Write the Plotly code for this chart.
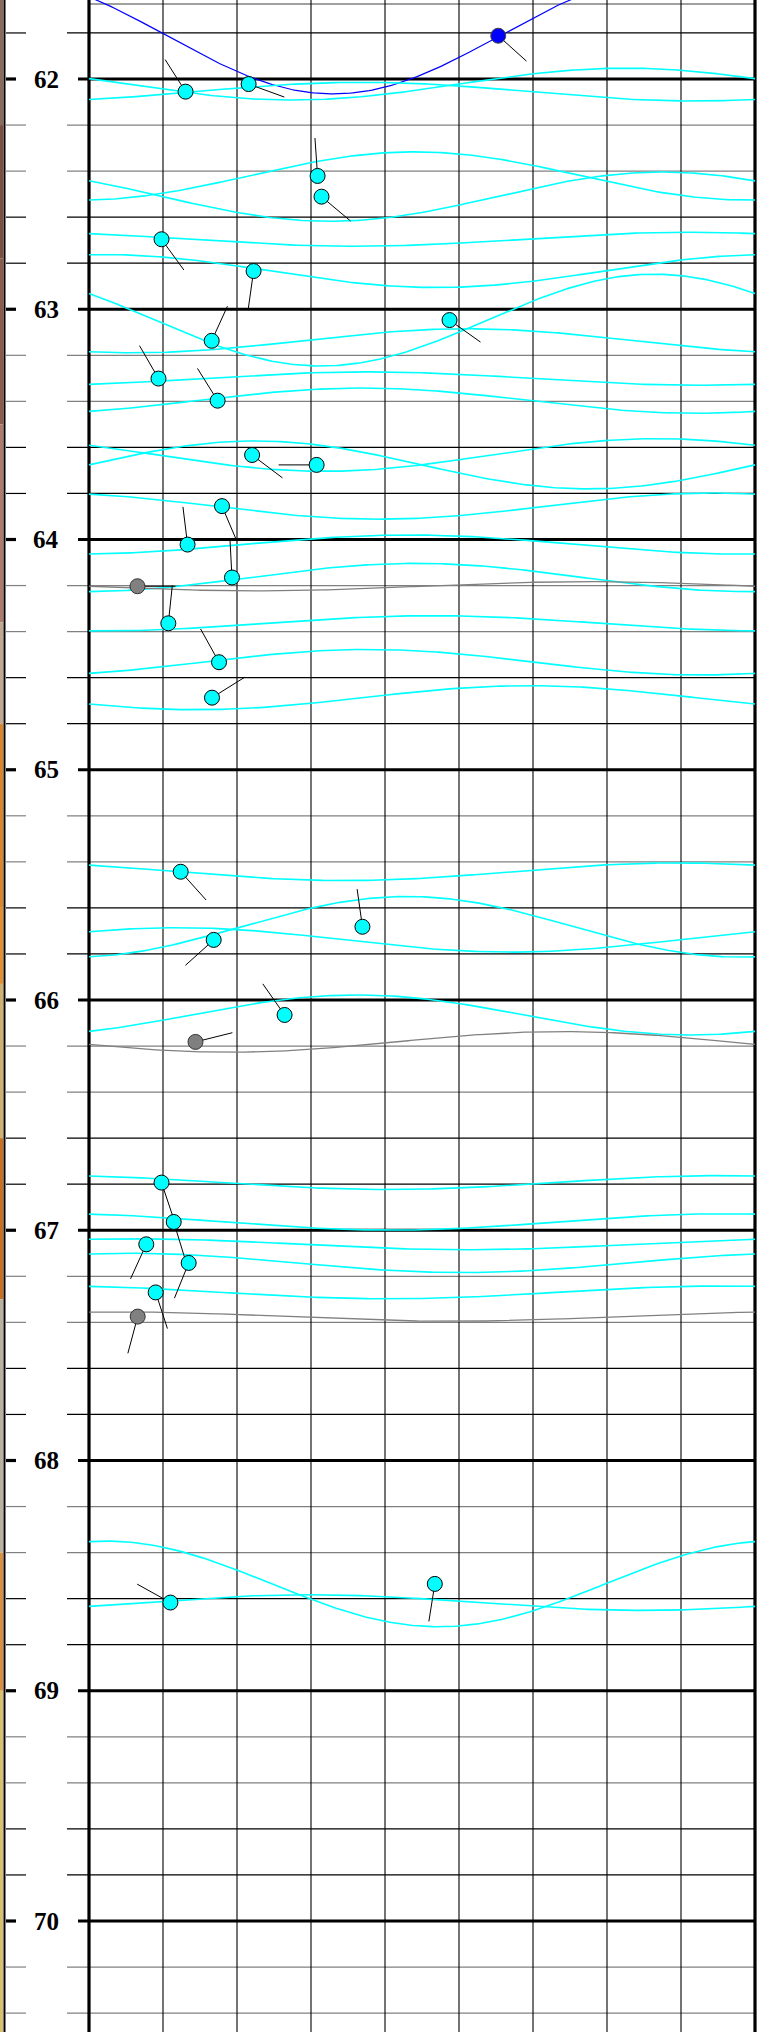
import numpy as np
import plotly.graph_objects as go

# ---------------- data: dip tadpoles (one per picked bedding/fracture) ----------------
depth = [61.812, 62.055, 62.022, 62.421, 62.511, 62.696, 62.834, 63.137, 63.047, 63.301,
         63.397, 63.633, 63.676, 63.855, 64.022, 64.165, 64.203, 64.364, 64.533, 64.687,
         65.443, 65.682, 65.739, 66.065, 66.182, 66.793, 66.964, 67.061, 67.142, 67.270,
         67.375, 68.617, 68.536]
dip = [55.3, 13.05, 21.57, 30.89, 31.42, 9.80, 22.24, 16.58, 48.72, 9.39,
       17.38, 22.04, 30.76, 17.97, 13.32, 19.32, 6.55, 10.72, 17.57, 16.62,
       12.39, 36.95, 16.85, 26.43, 14.39, 9.80, 11.45, 7.74, 13.47, 9.01,
       6.58, 11.0, 46.73]
azimuth = [132, 327.5, 110, 356, 130, 144, 188, 24.5, 125.4, 330,
           328, 127, 270, 157, 353, 357, 90, 6, 331, 58,
           138, 352, 228, 325, 76, 161.5, 163, 204.5, 202, 162,
           195, 299, 189]
kind = ["blue", "cyan", "cyan", "cyan", "cyan", "cyan", "cyan", "cyan", "cyan", "cyan",
        "cyan", "cyan", "cyan", "cyan", "cyan", "cyan", "gray", "cyan", "cyan", "cyan",
        "cyan", "cyan", "cyan", "cyan", "gray", "cyan", "cyan", "cyan", "cyan", "cyan",
        "gray", "cyan", "cyan"]

depth_labels = [62, 63, 64, 65, 66, 67, 68, 69, 70]

# core image strip on the far left (depth boundaries and colours)
strip_tops = [61.60, 62.2, 62.78, 63.5, 64.36, 64.8, 65.6, 65.93, 66.6, 67.3, 68.4, 69.0]
strip_bots = [62.2, 62.78, 63.5, 64.36, 64.8, 65.6, 65.93, 66.6, 67.3, 68.4, 69.0, 70.6]
strip_cols = ["#8a6a5a", "#7b5040", "#8c5a48", "#b07a6a", "#c0a890", "#d8882a",
              "#e09030", "#d0b070", "#c87020", "#b8b0a0", "#d89040", "#d8c070"]

# ---------------- geometry ----------------
W, H = 765, 2032
TRACK_L, TRACK_R = 89.0, 755.0
DIP_MAX = 90.0
PXD = (TRACK_R - TRACK_L) / DIP_MAX          # px per degree
PXM = 230.25                                  # px per metre
Y62 = 79.0
y_top = 62 - Y62 / PXM
y_bot = 62 + (H - Y62) / PXM
x_left = -TRACK_L / PXD
x_right = (W - TRACK_L) / PXD

def xpx(p):   # pixel -> data x
    return (p - TRACK_L) / PXD

RADIUS_M = 0.175          # borehole radius (m) used for sinusoid amplitude
TAIL_PX = 38.0

colors = {"cyan": "#00FFFF", "gray": "#808080", "blue": "#0000FF"}
line_w = {"cyan": 1.6, "gray": 1.3, "blue": 1.2}
outline = {"cyan": "#000000", "gray": "#333333", "blue": "#444444"}

fig = go.Figure()
shapes = []

# core strip
for t, b, c in zip(strip_tops, strip_bots, strip_cols):
    shapes.append(dict(type="rect", xref="x", yref="y", x0=x_left, x1=xpx(3.2), y0=t, y1=b,
                       fillcolor=c, line=dict(width=0), layer="below"))
shapes.append(dict(type="line", xref="x", yref="y", x0=xpx(4.5), x1=xpx(4.5), y0=y_top, y1=y_bot,
                   line=dict(color="black", width=2), layer="below"))

# horizontal grid
n = int(round((70.4 - 61.8) / 0.2))
for i in range(n + 1):
    d = round(61.8 + 0.2 * i, 2)
    frac = round(d - np.floor(d + 1e-9), 2)
    if abs(frac) < 1e-6:
        segs = [(6, 16), (78, TRACK_R)]
        col, wd = "black", 3.2
    else:
        segs = [(6, 26), (67, TRACK_R)]
        col = "#808080" if frac in (0.2, 0.4) else "black"
        wd = 1.2
    for a, b in segs:
        shapes.append(dict(type="line", xref="x", yref="y", x0=xpx(a), x1=xpx(b), y0=d, y1=d,
                           line=dict(color=col, width=wd), layer="below"))

# top border of track
shapes.append(dict(type="line", xref="x", yref="y", x0=0, x1=DIP_MAX, y0=62 - (Y62 - 4) / PXM,
                   y1=62 - (Y62 - 4) / PXM, line=dict(color="#404040", width=1), layer="below"))

# vertical grid
for k in range(0, 10):
    g = k * 10
    wd = 3.2 if g in (0, 90) else 1.1
    shapes.append(dict(type="line", xref="x", yref="y", x0=g, x1=g, y0=y_top, y1=y_bot,
                       line=dict(color="black", width=wd), layer="below"))

# sinusoids
f = np.linspace(0, 1, 241)
for d, dp, az, kd in zip(depth, dip, azimuth, kind):
    amp = RADIUS_M * np.tan(np.radians(dp))
    ys = d + amp * np.cos(2 * np.pi * f - np.radians(az))
    fig.add_trace(go.Scatter(x=f * DIP_MAX, y=ys, mode="lines",
                             line=dict(color=colors[kd], width=line_w[kd]),
                             hoverinfo="skip", showlegend=False))

# tails
tx, ty = [], []
for d, dp, az in zip(depth, dip, azimuth):
    a = np.radians(az)
    tx += [dp, dp + TAIL_PX * np.sin(a) / PXD, None]
    ty += [d, d - TAIL_PX * np.cos(a) / PXM, None]
fig.add_trace(go.Scatter(x=tx, y=ty, mode="lines", line=dict(color="black", width=1),
                         hoverinfo="skip", showlegend=False))

# heads
for kd in ("cyan", "gray", "blue"):
    xs = [dp for dp, k in zip(dip, kind) if k == kd]
    ys = [d for d, k in zip(depth, kind) if k == kd]
    fig.add_trace(go.Scatter(x=xs, y=ys, mode="markers",
                             marker=dict(size=15, color=colors[kd],
                                         line=dict(color=outline[kd], width=1)),
                             showlegend=False))

annotations = []
for d in depth_labels:
    annotations.append(dict(x=xpx(46.3), y=d, xref="x", yref="y", text="<b>%d</b>" % d, showarrow=False,
                            font=dict(family="Liberation Serif", size=25, color="black"),
                            xanchor="center", yanchor="middle", bgcolor="white"))

fig.update_layout(width=W, height=H, autosize=False,
                  margin=dict(l=0, r=0, t=0, b=0, pad=0),
                  paper_bgcolor="white", plot_bgcolor="white",
                  shapes=shapes, annotations=annotations, showlegend=False,
                  xaxis=dict(range=[x_left, x_right], visible=False, fixedrange=True),
                  yaxis=dict(range=[y_bot, y_top], visible=False, fixedrange=True))

fig.write_html("out.html", config={"displayModeBar": False},
               post_script="document.body.style.margin='0';document.body.style.padding='0';"
                           "document.body.style.overflow='hidden';")
